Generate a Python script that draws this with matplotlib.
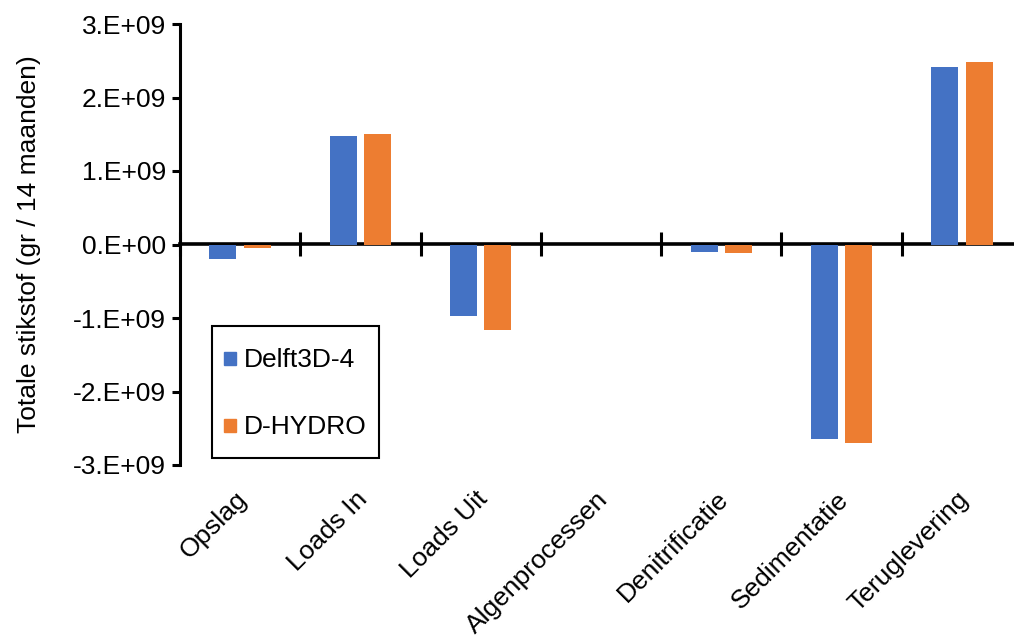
import matplotlib
matplotlib.use("Agg")
import matplotlib.pyplot as plt
import numpy as np
from matplotlib.patches import Rectangle
from matplotlib.legend_handler import HandlerPatch
from matplotlib.ticker import FuncFormatter
from matplotlib.transforms import ScaledTranslation

plt.rcParams['font.family'] = ['Liberation Sans', 'DejaVu Sans']

# data (gr stikstof over 14 maanden)
categories = ["Opslag", "Loads In", "Loads Uit", "Algenprocessen",
              "Denitrificatie", "Sedimentatie", "Teruglevering"]
delft3d4 = [-0.20e9, 1.47e9, -0.97e9, 0.0, -0.10e9, -2.65e9, 2.41e9]
dhydro = [-0.05e9, 1.51e9, -1.16e9, 0.0, -0.12e9, -2.70e9, 2.48e9]
yticks = [-3e9, -2e9, -1e9, 0, 1e9, 2e9, 3e9]

blue = "#4472C4"
orange = "#ED7D31"
fs = 19

fig = plt.figure(figsize=(10.14, 6.40), dpi=100)
ax = fig.add_axes([180/1014, 1 - 465/640, 842/1014, 441/640])

x = np.arange(len(categories))
w = 0.225
ax.bar(x - 0.143, delft3d4, w, color=blue)
ax.bar(x + 0.143, dhydro, w, color=orange)

ax.set_xlim(-0.5, len(categories) - 0.5)
ax.set_ylim(-3e9, 3e9)
ax.set_yticks(yticks)
ax.yaxis.set_major_formatter(FuncFormatter(lambda v, p: f"{v:#.0E}"))
ax.tick_params(axis='y', labelsize=fs, direction='out', length=6, width=2.2, pad=4)

for s in ['top', 'right', 'bottom']:
    ax.spines[s].set_visible(False)
ax.spines['left'].set_linewidth(2.2)

# category labels at the bottom
ax.set_xticks(x)
ax.set_xticklabels(categories, rotation=45, ha='right', rotation_mode='anchor', fontsize=fs)
ax.tick_params(axis='x', length=0, pad=16)
shift = ScaledTranslation(-5/100, 0, fig.dpi_scale_trans)
for lab in ax.get_xticklabels():
    lab.set_transform(lab.get_transform() + shift)

# zero line with boundary ticks
sec = ax.secondary_xaxis(0.5)
sec.set_xticks(np.arange(len(categories) + 1) - 0.5)
sec.set_xticklabels([])
for sp in sec.spines.values():
    sp.set_linewidth(2.6)
sec.tick_params(direction='inout', length=17, width=2.2)

ax.set_ylabel("Totale stikstof (gr / 14 maanden)", fontsize=fs, labelpad=23)


def small_square(legend, orig_handle, xdescent, ydescent, width, height, fontsize):
    return Rectangle((-xdescent, -ydescent + (height - width) / 2), width, width)


handles = [Rectangle((0, 0), 1, 1, color=blue), Rectangle((0, 0), 1, 1, color=orange)]
leg = ax.legend(handles, ["Delft3D-4", "D-HYDRO"],
                loc='lower left', bbox_to_anchor=(0.038, 0.016), borderaxespad=0,
                fontsize=fs, frameon=True, fancybox=False, framealpha=1,
                edgecolor='black', handlelength=0.47, handleheight=2.0,
                handletextpad=0.3, labelspacing=1.0, borderpad=0.45,
                handler_map={Rectangle: HandlerPatch(patch_func=small_square)})
leg.get_frame().set_linewidth(1.5)

fig.savefig("out.png", dpi=100)
